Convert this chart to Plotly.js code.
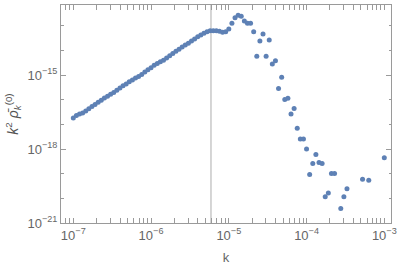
<!DOCTYPE html>
<html>
<head>
<meta charset="utf-8">
<script src="https://cdn.plot.ly/plotly-3.0.1.min.js"></script>
<style>html,body{margin:0;padding:0;background:#fff;}#chart{width:399px;height:268px;}</style>
</head>
<body>
<div id="chart"></div>
<script>
// log10(k) of each plotted sample
var logK = [
  -7.00,-6.96,-6.92,-6.88,-6.84,-6.80,-6.76,-6.72,-6.68,-6.64,
  -6.60,-6.56,-6.52,-6.48,-6.44,-6.40,-6.36,-6.32,-6.28,-6.24,
  -6.20,-6.16,-6.12,-6.08,-6.04,-6.00,-5.96,-5.92,-5.88,-5.84,
  -5.80,-5.76,-5.72,-5.68,-5.64,-5.60,-5.56,-5.52,-5.48,-5.44,
  -5.40,-5.36,-5.32,-5.28,-5.24,-5.20,-5.16,-5.12,-5.08,-5.04,
  -5.00,-4.96,-4.92,-4.88,-4.84,-4.80,-4.76,-4.72,-4.68,-4.64,
  -4.60,-4.56,-4.52,-4.48,-4.44,-4.40,-4.36,-4.32,-4.28,-4.24,
  -4.20,-4.16,-4.12,-4.08,-4.04,-4.00,-3.96,-3.92,-3.88,-3.84,
  -3.80,-3.76,-3.72,-3.68,-3.64,
  -3.56,-3.52,-3.48,
  -3.28,-3.20,
  -3.00
];
// log10(k^2 rho_k^(0)) of each plotted sample
var logRho = [
  -16.74,-16.64,-16.58,-16.53,-16.45,-16.36,-16.27,-16.19,-16.10,-16.02,
  -15.93,-15.85,-15.77,-15.70,-15.61,-15.52,-15.43,-15.36,-15.27,-15.19,
  -15.11,-15.05,-14.97,-14.87,-14.78,-14.70,-14.60,-14.52,-14.45,-14.39,
  -14.30,-14.21,-14.12,-14.03,-13.95,-13.86,-13.77,-13.70,-13.61,-13.53,
  -13.44,-13.37,-13.30,-13.24,-13.20,-13.20,-13.20,-13.22,-13.26,-13.24,
  -13.12,-12.89,-12.67,-12.57,-12.61,-12.80,-12.89,-12.89,-13.24,-14.23,
  -13.61,-13.33,-14.23,-13.57,-14.55,-14.41,-15.54,-15.08,-15.99,-15.94,
  -16.57,-16.35,-17.15,-17.59,-17.59,-18.00,-19.03,-18.58,-18.22,-18.54,
  -18.58,-19.93,-19.78,-18.99,-18.99,
  -20.41,-19.93,-19.61,
  -19.22,-19.26,
  -18.35
];
var markerK = 5.9e-6;          // vertical reference line
var xTickVals = [1e-7,1e-6,1e-5,1e-4,1e-3];
var xTickText = ['10<sup>−7</sup>','10<sup>−6</sup>','10<sup>−5</sup>','10<sup>−4</sup>','10<sup>−3</sup>'];
var yTickVals = [1e-21,1e-18,1e-15];
var yTickText = ['10<sup>−21</sup>','10<sup>−18</sup>','10<sup>−15</sup>'];
var yMinorVals = [1e-21,1e-20,1e-19,1e-18,1e-17,1e-16,1e-15,1e-14,1e-13];

var k = logK.map(function(v){return Math.pow(10,v);});
var rho = logRho.map(function(v){return Math.pow(10,v);});

var axisCol = '#9a9a9a';
var textCol = '#666666';
var fnt = {family:'Liberation Sans, Arial, sans-serif', size:13, color:textCol};
var titleFnt = {family:'Liberation Sans, Arial, sans-serif', size:14, color:'#555555'};

var traces = [
  {x:[markerK,markerK], y:[1e-23,1e-10], mode:'lines', line:{color:'#c8c8c8', width:1.5}, hoverinfo:'skip', showlegend:false},
  {x:k, y:rho, mode:'markers', marker:{color:'#5E81B5', size:5}, showlegend:false},
  {x:[1e-5], y:[1e-15], xaxis:'x', yaxis:'y2', mode:'markers', marker:{opacity:0}, showlegend:false, hoverinfo:'skip'}
];

var layout = {
  width:399, height:268,
  margin:{l:61, r:8, t:5, b:45},
  paper_bgcolor:'#fff', plot_bgcolor:'#fff',
  font:fnt,
  xaxis:{
    type:'log', range:[-7.158,-2.914],
    tickmode:'array', tickvals:xTickVals, ticktext:xTickText,
    ticks:'inside', ticklen:5, tickcolor:axisCol, tickwidth:1,
    minor:{dtick:'D1', ticks:'inside', ticklen:2.5, tickcolor:axisCol, showgrid:false},
    showline:true, linecolor:axisCol, linewidth:1, mirror:'allticks',
    showgrid:false, zeroline:false,
    tickfont:fnt,
    title:{text:'k', font:fnt, standoff:11}
  },
  yaxis:{
    type:'log', range:[-21,-12.15],
    tickmode:'array', tickvals:yTickVals, ticktext:yTickText,
    ticks:'inside', ticklen:5, tickcolor:axisCol, tickwidth:1,
    showline:true, linecolor:axisCol, linewidth:1, mirror:'allticks',
    showgrid:false, zeroline:false,
    tickfont:fnt,
    title:{text:'<i>k</i><sup>2</sup> <i>ρ̄</i><sub><i>k</i></sub><sup>(0)</sup>', font:titleFnt, standoff:5}
  },
  yaxis2:{
    type:'log', range:[-21,-12.15], overlaying:'y', side:'left',
    tickmode:'array', tickvals:yMinorVals, showticklabels:false,
    ticks:'inside', ticklen:2.5, tickcolor:axisCol,
    showline:false, mirror:'allticks', showgrid:false, zeroline:false
  }
};

Plotly.newPlot('chart', traces, layout, {displayModeBar:false, staticPlot:true});
</script>
</body>
</html>
